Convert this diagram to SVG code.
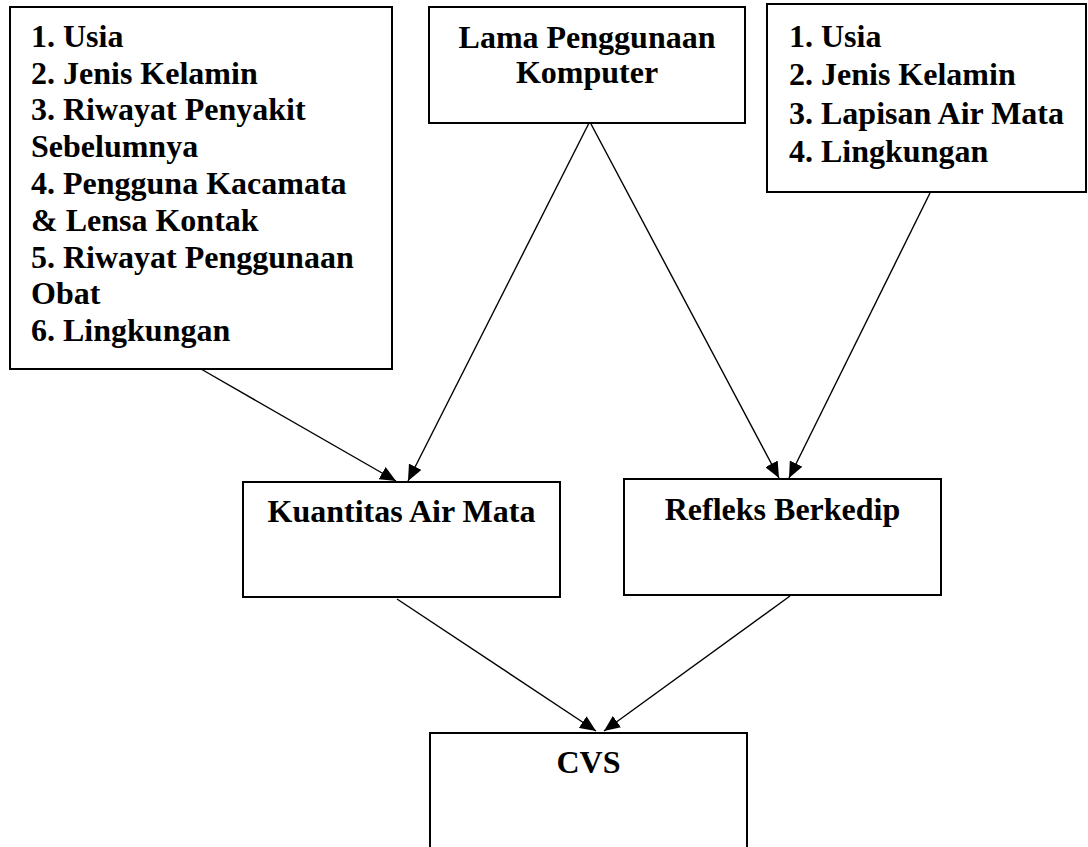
<svg xmlns="http://www.w3.org/2000/svg" width="1088" height="847" viewBox="0 0 1088 847">
<style>
.box{fill:#fff;stroke:#000;stroke-width:2}
.t{font-family:"Liberation Serif","Times New Roman",serif;font-weight:bold;font-size:32px;fill:#000}
.c{text-anchor:middle}
.ln{stroke:#000;stroke-width:1.4;fill:none;marker-end:url(#ah)}
</style>
<defs>
<marker id="ah" markerUnits="userSpaceOnUse" markerWidth="16" markerHeight="14" refX="16" refY="7" orient="auto">
<path d="M0,0 L16,7 L0,14 z" fill="#000"/>
</marker>
</defs>
<rect width="1088" height="847" fill="#fff"/>
<g id="connectors">
<line class="ln" x1="201" y1="369" x2="396" y2="481"/>
<line class="ln" x1="589" y1="123" x2="408" y2="481"/>
<line class="ln" x1="591" y1="124" x2="779" y2="478"/>
<line class="ln" x1="930" y1="193" x2="789" y2="478"/>
<line class="ln" x1="397" y1="599" x2="596" y2="731"/>
<line class="ln" x1="790" y1="596" x2="604" y2="731"/>
</g>
<g id="faktor-kiri">
<rect class="box" x="10" y="7" width="382" height="362"/>
<text class="t" x="31" y="47">1. Usia</text>
<text class="t" x="31" y="84">2. Jenis Kelamin</text>
<text class="t" x="31" y="120">3. Riwayat Penyakit</text>
<text class="t" x="31" y="157">Sebelumnya</text>
<text class="t" x="31" y="194">4. Pengguna Kacamata</text>
<text class="t" x="31" y="231">&amp; Lensa Kontak</text>
<text class="t" x="31" y="268">5. Riwayat Penggunaan</text>
<text class="t" x="31" y="304">Obat</text>
<text class="t" x="31" y="341">6. Lingkungan</text>
</g>
<g id="lama-penggunaan">
<rect class="box" x="429" y="7" width="316" height="116"/>
<text class="t c" x="587" y="48">Lama Penggunaan</text>
<text class="t c" x="587" y="83">Komputer</text>
</g>
<g id="faktor-kanan">
<rect class="box" x="767" y="4" width="319" height="188"/>
<text class="t" x="789" y="47">1. Usia</text>
<text class="t" x="789" y="85">2. Jenis Kelamin</text>
<text class="t" x="789" y="124">3. Lapisan Air Mata</text>
<text class="t" x="789" y="162">4. Lingkungan</text>
</g>
<g id="kuantitas">
<rect class="box" x="243" y="482" width="317" height="115"/>
<text class="t c" x="401.5" y="522">Kuantitas Air Mata</text>
</g>
<g id="refleks">
<rect class="box" x="624" y="479" width="317" height="116"/>
<text class="t c" x="782.5" y="520">Refleks Berkedip</text>
</g>
<g id="cvs">
<rect class="box" x="430" y="733" width="317" height="130"/>
<text class="t c" x="588.5" y="773">CVS</text>
</g>
</svg>
